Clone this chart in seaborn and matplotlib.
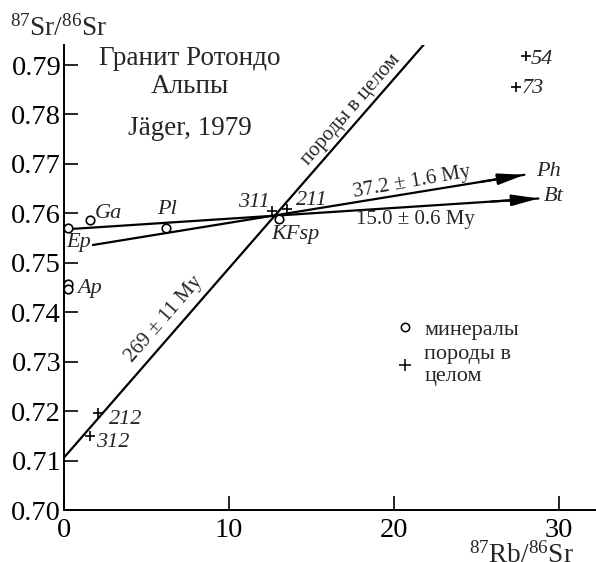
import matplotlib
matplotlib.use("Agg")
import matplotlib.pyplot as plt
import seaborn as sns
from matplotlib.lines import Line2D

# Minerals (open circles)
mineral_x = [0.25, 1.6, 6.2, 13.05, 0.25, 0.25]
mineral_y = [0.7571, 0.7586, 0.7571, 0.7588, 0.7457, 0.7447]

# Whole-rock samples (plus signs)
rock_names = ["311", "211", "212", "312", "54", "73"]
rock_x = [12.6, 13.5, 2.05, 1.6, 28.0, 27.4]
rock_y = [0.7604, 0.7609, 0.7196, 0.7150, 0.7918, 0.7856]

# Isochrons: start and end points
iso_names = ["whole", "Ph", "Bt"]
iso_x0 = [0.0, 1.75, 0.25]
iso_y0 = [0.7106, 0.7536, 0.7568]
iso_x1 = [21.9, 27.9, 28.75]
iso_y1 = [0.7945, 0.7678, 0.7630]

# Sample labels (italic)
lab_text = ["Ep", "Ga", "Pl", "Ap", "KFsp", "311", "211", "212", "312", "54", "73", "Ph", "Bt"]
lab_x = [0.88, 2.67, 6.24, 1.55, 14.0, 11.5, 15.0, 3.75, 2.95, 28.95, 28.4, 29.35, 29.65]
lab_y = [0.7542, 0.7600, 0.7607, 0.7447, 0.7558, 0.7622, 0.7625, 0.7183, 0.7137, 0.7911, 0.7852, 0.7685, 0.7635]

x_ticks = [0, 10, 20, 30]
y_ticks = [0.70, 0.71, 0.72, 0.73, 0.74, 0.75, 0.76, 0.77, 0.78, 0.79]

sns.set_style("ticks")
plt.rcParams["font.family"] = ["Liberation Serif", "DejaVu Serif"]
plt.rcParams["mathtext.fontset"] = "custom"
plt.rcParams["mathtext.rm"] = "Liberation Serif"
plt.rcParams["mathtext.it"] = "Liberation Serif:italic"

fig = plt.figure(figsize=(5.96, 5.62), dpi=100)
ax = fig.add_axes([64 / 596, 52 / 562, 532 / 596, 465 / 562])
ax.set_xlim(0, 32.24)
ax.set_ylim(0.70, 0.79405)

# isochron lines with arrow heads
for x0, y0, x1, y1 in zip(iso_x0, iso_y0, iso_x1, iso_y1):
    sns.lineplot(x=[x0, x1], y=[y0, y1], ax=ax, color="black", lw=1.6)
    ax.annotate("", xy=(x1, y1), xytext=(x0 + 0.9 * (x1 - x0), y0 + 0.9 * (y1 - y0)),
                arrowprops=dict(arrowstyle="-|>,head_length=0.8,head_width=0.17",
                                mutation_scale=20, color="black", lw=1.6,
                                shrinkA=0, shrinkB=0))

sns.scatterplot(x=mineral_x, y=mineral_y, ax=ax, marker="o", s=38,
                facecolor="white", edgecolor="black", linewidth=1.2, zorder=5)
sns.scatterplot(x=rock_x, y=rock_y, ax=ax, marker="+", s=60,
                color="black", linewidth=1.2, zorder=5)

for t, x, y in zip(lab_text, lab_x, lab_y):
    ax.text(x, y, t, fontsize=16, fontstyle="italic", ha="center", va="center")

# age annotations
ax.text(21.1, 0.7663, "37.2 ± 1.6 My", fontsize=15, ha="center", va="center", rotation=10)
ax.text(21.3, 0.7587, "15.0 ± 0.6 My", fontsize=15, ha="center", va="center")
ax.text(6.06, 0.7386, "269 ± 11 My", fontsize=15, ha="center", va="center", rotation=49)
ax.text(17.4, 0.7809, "породы в целом", fontsize=15, ha="center", va="center", rotation=49)

# heading
ax.text(7.6, 0.7914, "Гранит Ротондо", fontsize=19.5, ha="center", va="center")
ax.text(7.6, 0.7856, "Альпы", fontsize=19.5, ha="center", va="center")
ax.text(7.6, 0.7771, "Jäger, 1979", fontsize=19.5, ha="center", va="center")

handles = [
    Line2D([], [], marker="o", ls="none", mfc="white", mec="black", ms=6, mew=1.1),
    Line2D([], [], marker="+", ls="none", color="black", ms=8, mew=1.1),
]
ax.legend(handles, ["минералы", "породы в\nцелом"], loc="upper left",
          bbox_to_anchor=(0.604, 0.434), frameon=False, fontsize=16,
          handlelength=0.8, handletextpad=0.45, labelspacing=0.25, borderpad=0)

ax.set_xticks(x_ticks)
ax.set_xticklabels([str(v) for v in x_ticks])
ax.set_yticks(y_ticks)
ax.set_yticklabels([f"{v:.2f}" for v in y_ticks])
ax.tick_params(direction="in", length=10, width=1.2, labelsize=20.5, pad=2, colors="black")
ax.tick_params(axis="x", pad=6)
for s in ["top", "right"]:
    ax.spines[s].set_visible(False)
for s in ["left", "bottom"]:
    ax.spines[s].set_linewidth(1.4)
    ax.spines[s].set_color("black")

fig.text(10 / 596, 1 - 28 / 562, r"$^{87}$Sr/$^{86}$Sr", fontsize=19.5, ha="left", va="center")
fig.text(521 / 596, 1 - 555 / 562, r"$^{87}$Rb/$^{86}$Sr", fontsize=19.5, ha="center", va="center")

fig.savefig("out.png", dpi=100)
